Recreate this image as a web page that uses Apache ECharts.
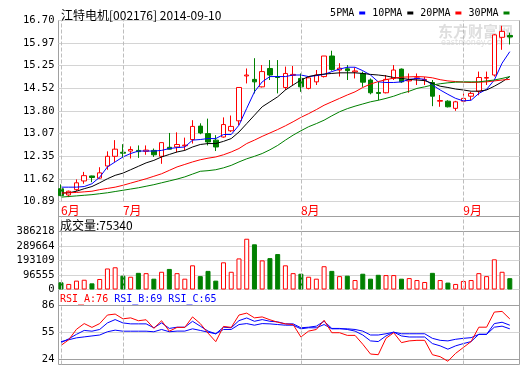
<!DOCTYPE html>
<html><head><meta charset="utf-8">
<script src="https://cdn.jsdelivr.net/npm/echarts@6/dist/echarts.min.js"></script>
<style>html,body{margin:0;padding:0;background:#fff}#c{width:520px;height:365px}</style>
</head><body><div id="c"></div>
<script>
const dates = ['06-19','06-20','06-23','06-24','06-25','06-26','06-27','06-30',
'07-01','07-02','07-03','07-04','07-07','07-08','07-09','07-10','07-11','07-14','07-15','07-16','07-17','07-18','07-21','07-22','07-23','07-24','07-25','07-28','07-29','07-30','07-31',
'08-01','08-04','08-05','08-06','08-07','08-08','08-11','08-12','08-13','08-14','08-15','08-18','08-19','08-20','08-21','08-22','08-25','08-26','08-27','08-28','08-29',
'09-01','09-02','09-03','09-04','09-05','09-09','09-10'];
const opens = [11.30,11.10,11.27,11.55,11.71,11.64,12.03,12.34,12.47,12.51,12.53,12.50,12.53,12.34,12.63,12.64,12.68,12.88,13.31,13.07,12.86,12.96,13.16,13.48,14.92,14.81,14.57,15.16,14.90,14.55,14.94,14.84,14.52,14.73,14.90,15.56,15.11,15.15,15.05,15.00,14.79,14.39,14.38,14.84,15.14,14.76,14.83,14.79,14.71,14.11,14.11,13.88,14.11,14.27,14.43,14.85,14.95,16.16,16.22];
const closes = [11.08,11.22,11.49,11.72,11.66,11.81,12.34,12.57,12.44,12.56,12.49,12.54,12.39,12.78,12.57,12.72,12.70,13.30,13.09,12.80,12.64,13.36,13.30,14.55,14.95,14.73,15.06,14.95,14.87,15.00,14.97,14.57,14.86,14.95,15.56,15.13,15.17,15.09,15.08,14.72,14.38,14.36,14.81,15.11,14.73,14.79,14.86,14.81,14.27,14.13,13.93,14.09,14.20,14.36,14.87,14.87,16.24,16.35,16.17];
const lows = [11.06,11.03,11.22,11.46,11.51,11.62,11.91,12.16,12.30,12.27,12.29,12.39,12.32,12.10,12.56,12.47,12.53,12.75,13.05,12.69,12.51,12.94,13.12,13.34,14.68,14.36,14.55,14.79,14.36,14.47,14.63,14.41,14.49,14.63,14.87,15.09,14.90,14.79,14.84,14.57,14.33,14.14,14.36,14.79,14.70,14.38,14.63,14.63,13.95,13.93,13.91,13.80,14.09,14.14,14.30,14.63,14.90,15.76,15.93];
const highs = [11.44,11.24,11.60,11.84,11.72,11.99,12.50,12.86,12.73,12.66,12.69,12.69,12.59,12.78,13.09,13.11,12.94,13.50,13.40,13.55,13.02,13.59,13.65,14.55,15.16,15.49,15.27,15.43,15.43,15.22,15.24,15.00,14.89,15.11,15.56,15.73,15.33,15.27,15.19,15.06,14.84,14.73,14.95,15.27,15.16,15.00,15.00,14.89,14.79,14.31,14.14,14.12,14.36,14.41,15.06,15.06,16.26,16.53,16.31];
const ma5 = [11.35,11.35,11.35,11.37,11.46,11.67,12.00,12.16,12.32,12.43,12.51,12.51,12.51,12.53,12.59,12.62,12.64,12.86,12.88,12.91,12.91,13.04,13.04,13.34,13.88,14.41,14.73,14.90,14.90,14.90,14.95,14.95,14.90,14.93,14.97,15.06,15.14,15.20,15.20,15.09,14.95,14.73,14.71,14.71,14.73,14.81,14.84,14.81,14.63,14.47,14.33,14.20,14.12,14.14,14.36,14.49,14.79,15.33,15.70];
const ma10 = [11.16,11.17,11.22,11.30,11.37,11.49,11.62,11.73,11.80,11.91,12.02,12.13,12.21,12.32,12.40,12.48,12.53,12.64,12.72,12.75,12.75,12.82,12.91,13.12,13.39,13.66,13.93,14.09,14.25,14.47,14.63,14.79,14.90,14.95,14.98,15.00,15.02,15.02,15.02,15.00,14.97,14.95,14.92,14.87,14.84,14.81,14.79,14.77,14.68,14.59,14.55,14.50,14.47,14.43,14.43,14.47,14.59,14.73,14.90];
const ma20 = [11.16,11.17,11.18,11.20,11.22,11.27,11.31,11.35,11.41,11.48,11.55,11.62,11.70,11.78,11.89,12.00,12.08,12.16,12.23,12.28,12.32,12.39,12.48,12.59,12.75,12.86,12.98,13.09,13.20,13.32,13.45,13.59,13.71,13.84,13.98,14.09,14.20,14.31,14.41,14.55,14.66,14.74,14.80,14.85,14.88,14.89,14.90,14.89,14.86,14.80,14.76,14.74,14.72,14.71,14.72,14.73,14.76,14.79,14.81];
const ma30 = [11.03,11.05,11.07,11.09,11.11,11.14,11.17,11.21,11.25,11.29,11.33,11.38,11.43,11.49,11.55,11.61,11.68,11.77,11.86,11.88,11.91,11.97,12.05,12.16,12.26,12.34,12.43,12.55,12.69,12.86,13.02,13.16,13.29,13.39,13.50,13.64,13.77,13.87,13.95,14.02,14.09,14.14,14.20,14.27,14.36,14.43,14.52,14.57,14.63,14.67,14.70,14.72,14.73,14.73,14.73,14.76,14.79,14.84,14.90];
const volumes = [48000,37000,59000,65000,41000,70000,140000,148000,92000,85000,111000,109000,72000,118000,137000,109000,72000,161000,89000,124000,59000,181000,118000,207000,338000,301000,194000,209000,236000,161000,109000,105000,85000,72000,155000,124000,89000,92000,63000,105000,72000,98000,96000,96000,72000,76000,63000,50000,111000,63000,46000,37000,57000,63000,109000,89000,201000,118000,75340];
const rsiA = [44,50,61,67,63,67,76,77,72,73,70,71,62,70,59,63,63,74,67,57,48,64,63,76,78,73,74,71,68.4,66.7,66,52.9,59.1,60.8,70.5,57.4,57.4,54.6,54.6,45.3,35,34.3,51.5,57.4,47,48.8,49.4,49.4,34.3,32.2,27.4,35.7,41.9,48.1,63.2,63.2,79.1,79.8,71.9];
const rsiB = [47,51,55.7,59.8,59,60.8,67.7,71.2,67.7,66.7,66.7,66.7,62.6,67.7,61.9,63.2,63.2,69.4,64.3,59.1,56.3,63.2,62.6,70.1,72.9,69.4,71.2,69.4,68.8,66.7,66.7,62.6,63.2,64.3,69.4,61.9,61.9,60.8,59.1,55,48.8,48.1,54,58,54,52.9,52.9,52.9,46,43.6,40.1,43.6,46,48.1,55.7,55.7,67,68.4,65.3];
const rsiC = [48,50,52,53,54,55,58.4,60.1,59,59,59,59,58.4,60.8,58.4,59.1,59.1,61.5,59.8,58,56.3,60.8,60.8,66,67,65.3,67,66.7,66,65.3,65.3,61.5,62.6,62.6,66,61.5,61.5,61.5,60.8,59.1,55,55,56.3,58,56.3,56.3,56.3,56.3,51.5,49.4,48.8,50.5,51.5,52.2,55.7,55.7,63.2,64.3,61.5];
const priceTicks = ['10.89','11.62','12.35','13.07','13.80','14.52','15.25','15.97','16.70'];
const volTicks = ['0','96555','193109','289664','386218'];
const rsiTicks = ['24','55','86'];
const monthIdx = [0, 8, 31, 52];
const monthNames = ['6月','7月','8月','9月'];
const maNames = ['5PMA','10PMA','20PMA','30PMA'];
const maColors = ['#0000ff','#000000','#ff0000','#008000'];

const chart = echarts.init(document.getElementById('c'), null, {renderer:'canvas'});
const MONO = 'DejaVu Sans Mono';
const CJK = 'Noto Sans CJK SC';
const BORDER = '#a0a0a0', LIGHT = '#d4d4d4';
const FL = 58.5, FR = 0.5;
const DL = 57.13, DW = 456.54;
const pMin = parseFloat(priceTicks[0]), pMax = parseFloat(priceTicks[priceTicks.length-1]);
const vMax = parseFloat(volTicks[volTicks.length-1]);
const rMin = parseFloat(rsiTicks[0]), rMax = parseFloat(rsiTicks[rsiTicks.length-1]);
const volBoxTop = 216.5, volPlotTop = 231.5, volBottom = 289.5;
const volDataMax = vMax * (volBottom - volBoxTop) / (volBottom - volPlotTop);

const up = closes.map((c, i) => c >= opens[i]);
const monthLine = () => ({
  silent: true, symbol: ['none','none'], label: {show:false},
  lineStyle: {color:'#bdbdbd', type:[4,2], width:1},
  emphasis: {disabled:true},
  data: monthIdx.map(i => ({xAxis: dates[i]}))
});
const hiddenVal = (g) => ({type:'value', gridIndex:g, show:false, min:0, max:1});
const hiddenCat = (g) => ({type:'category', gridIndex:g, data:dates, show:false, boundaryGap:true});

const option = {
  animation: false,
  backgroundColor: '#fff',
  title: [
    {text:'江特电机[002176] 2014-09-10', left:61, top:9, padding:0,
     textStyle:{fontSize:12, fontWeight:'normal', color:'#000', fontFamily:CJK}},
    {text:'成交量:75340', left:60, top:219, padding:0,
     textStyle:{fontSize:12, fontWeight:'normal', color:'#000', fontFamily:CJK}},
    {text:'{a|RSI_A:76} {b|RSI_B:69} {b|RSI_C:65}', left:60, top:294, padding:0,
     textStyle:{fontSize:10, fontFamily:MONO, fontWeight:'normal',
       rich:{a:{color:'#ff0000', fontSize:10, fontFamily:MONO}, b:{color:'#0000ff', fontSize:10, fontFamily:MONO}}}}
  ],
  legend: {
    data: maNames, right: 10.5, top: 8, align:'right', icon:'rect',
    itemWidth: 6, itemHeight: 3, itemGap: 7, padding: 0, selectedMode: false,
    textStyle: {fontSize:10, fontFamily:MONO, color:'#000'}
  },
  graphic: [
    {type:'text', left:438, top:24, z:-1, silent:true,
     style:{text:'东方财富网', fontSize:15, fontWeight:'bold', fill:'#dedede', fontFamily:CJK}},
    {type:'text', left:441, top:39, z:-1, silent:true,
     style:{text:'eastmoney.com', fontSize:8, fill:'#dedede', fontFamily:'DejaVu Sans'}}
  ],
  grid: [
    {left:FL, right:FR, top:20.5, height:344, show:true, borderColor:BORDER, borderWidth:1, backgroundColor:'transparent'},
    {left:FL, right:FR, top:20.5, height:181, show:true, borderColor:BORDER, borderWidth:1, backgroundColor:'transparent'},
    {left:DL, width:DW, top:20.5, height:181},
    {left:FL, right:FR, top:volBoxTop, height:volBottom-volBoxTop, show:true, borderColor:BORDER, borderWidth:1, backgroundColor:'transparent'},
    {left:FL, right:FR, top:volPlotTop, height:volBottom-volPlotTop},
    {left:DL, width:DW, top:volBoxTop, height:volBottom-volBoxTop},
    {left:FL, right:FR, top:305.5, height:59},
    {left:DL, width:DW, top:305.5, height:59}
  ],
  xAxis: [
    hiddenVal(0), hiddenVal(1),
    {type:'category', gridIndex:2, data:dates, boundaryGap:true,
     axisLine:{show:false}, axisTick:{show:false}, splitLine:{show:false},
     axisLabel:{show:true, margin:3, color:'#ff0000', fontSize:12, fontFamily:CJK, align:'left',
       interval:(idx) => monthIdx.indexOf(idx) >= 0,
       formatter:(v, idx) => { const k = monthIdx.indexOf(idx); return k >= 0 ? monthNames[k] : ''; }}},
    hiddenVal(3), hiddenVal(4), hiddenCat(5), hiddenVal(6), hiddenCat(7)
  ],
  yAxis: [
    hiddenVal(0),
    {type:'value', gridIndex:1, min:pMin, max:pMax, interval:(pMax-pMin)/(priceTicks.length-1),
     axisLine:{show:false}, axisTick:{show:false},
     splitLine:{show:true, lineStyle:{color:LIGHT, width:1}},
     axisLabel:{margin:4, color:'#000', fontSize:10.5, fontFamily:MONO, formatter:(v, i) => priceTicks[i]}},
    {type:'value', gridIndex:2, min:pMin, max:pMax, show:false},
    hiddenVal(3),
    {type:'value', gridIndex:4, min:0, max:vMax, interval:vMax/(volTicks.length-1),
     axisLine:{show:false}, axisTick:{show:false},
     splitLine:{show:true, lineStyle:{color:[LIGHT, LIGHT, LIGHT, LIGHT, BORDER], width:1}},
     axisLabel:{margin:4, color:'#000', fontSize:10.5, fontFamily:MONO, formatter:(v, i) => volTicks[i]}},
    {type:'value', gridIndex:5, min:0, max:volDataMax, show:false},
    {type:'value', gridIndex:6, min:rMin, max:rMax, interval:(rMax-rMin)/(rsiTicks.length-1),
     axisLine:{show:false}, axisTick:{show:false},
     splitLine:{show:true, lineStyle:{color:[BORDER, LIGHT, BORDER], width:1}},
     axisLabel:{margin:4, color:'#000', fontSize:10.5, fontFamily:MONO, formatter:(v, i) => rsiTicks[i]}},
    {type:'value', gridIndex:7, min:rMin, max:rMax, show:false}
  ],
  series: [
    {type:'candlestick', name:'K', xAxisIndex:2, yAxisIndex:2, barWidth:5,
     data: opens.map((o, i) => [o, closes[i], lows[i], highs[i]]),
     itemStyle:{color:'#ffffff', color0:'#008000', borderColor:'#ff0000', borderColor0:'#008000', borderWidth:1},
     markLine: monthLine(), z:2},
    ...[ma5, ma10, ma20, ma30].map((d, k) => ({
      type:'line', name:maNames[k], xAxisIndex:2, yAxisIndex:2, data:d, showSymbol:false, symbol:'none',
      lineStyle:{color:maColors[k], width:1}, itemStyle:{color:maColors[k]}, z:3})),
    {type:'bar', name:'VOL', xAxisIndex:5, yAxisIndex:5, barWidth:5,
     data: volumes.map((v, i) => ({value:v, itemStyle: up[i]
        ? {color:'#ffffff', borderColor:'#ff0000', borderWidth:1}
        : {color:'#008000', borderColor:'#008000', borderWidth:1}})),
     markLine: monthLine()},
    {type:'line', name:'RSI_A', xAxisIndex:7, yAxisIndex:7, data:rsiA, showSymbol:false, symbol:'none',
     lineStyle:{color:'#ff0000', width:1}, markLine: monthLine(), z:4},
    {type:'line', name:'RSI_B', xAxisIndex:7, yAxisIndex:7, data:rsiB, showSymbol:false, symbol:'none',
     lineStyle:{color:'#0000ff', width:1}, z:3},
    {type:'line', name:'RSI_C', xAxisIndex:7, yAxisIndex:7, data:rsiC, showSymbol:false, symbol:'none',
     lineStyle:{color:'#0000ff', width:1}, z:3}
  ]
};
chart.setOption(option);
</script></body></html>
